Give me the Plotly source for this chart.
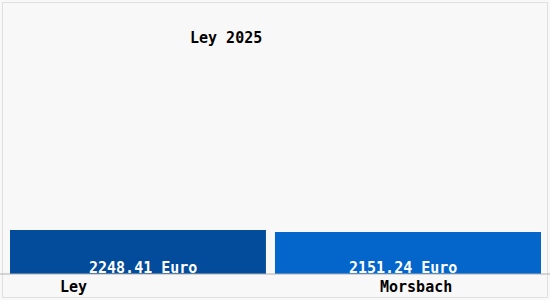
import plotly.graph_objects as go

categories = ["Ley", "Morsbach"]
values = [2248.41, 2151.24]
value_labels = ["2248.41 Euro", "2151.24 Euro"]
title_text = "Ley 2025"

colors = ["#034c9b", "#0466cb"]
W, H = 550, 300
ML, MR, MT, MB = 10, 9, 0, 26
PW = W - ML - MR
PH = H - MT - MB
FONT = dict(family="DejaVu Sans Mono", size=15, color="black", weight="bold")

def px_x(p):
    return (p - ML) / PW

def px_y(p):
    return 1 - (p - MT) / PH

fig = go.Figure()
fig.add_trace(go.Bar(
    x=categories, y=values,
    marker=dict(color=colors, line=dict(width=0)),
    width=[0.964, 1.002],
    offset=[-0.5, -0.502],
    hoverinfo="skip",
))

fig.update_layout(
    width=W, height=H,
    margin=dict(l=ML, r=MR, t=MT, b=MB),
    paper_bgcolor="#f8f8f8",
    plot_bgcolor="#f8f8f8",
    showlegend=False,
    xaxis=dict(range=[-0.5, 1.5], showticklabels=False, showgrid=False,
               zeroline=False, showline=False, fixedrange=True),
    yaxis=dict(range=[0, 14000], showticklabels=False, showgrid=False,
               zeroline=False, showline=False, fixedrange=True),
)

# value labels inside bars, near the bottom
value_centers = [143, 403]
for lab, cx in zip(value_labels, value_centers):
    fig.add_annotation(text=lab, xref="paper", yref="paper",
                       x=px_x(cx), y=px_y(268),
                       showarrow=False, xanchor="center", yanchor="middle",
                       font=dict(FONT, color="white"))

# title
fig.add_annotation(text=title_text, xref="paper", yref="paper",
                   x=px_x(226), y=px_y(38),
                   showarrow=False, xanchor="center", yanchor="middle",
                   font=FONT)

# category labels
label_centers = [73, 416]
for cat, cx in zip(categories, label_centers):
    fig.add_annotation(text=cat, xref="paper", yref="paper",
                       x=px_x(cx), y=px_y(287),
                       showarrow=False, xanchor="center", yanchor="middle",
                       font=FONT)

# axis line spanning full width
fig.add_shape(type="line", xref="paper", yref="paper",
              x0=px_x(0), x1=px_x(W), y0=0, y1=0,
              line=dict(color="#b0b0b0", width=1))

# outer border
fig.add_shape(type="rect", xref="paper", yref="paper",
              x0=px_x(2.5), x1=px_x(547.5),
              y0=px_y(297.5), y1=px_y(2.5),
              line=dict(color="#e0e0e0", width=1), layer="below")

fig.write_html("out.html")
